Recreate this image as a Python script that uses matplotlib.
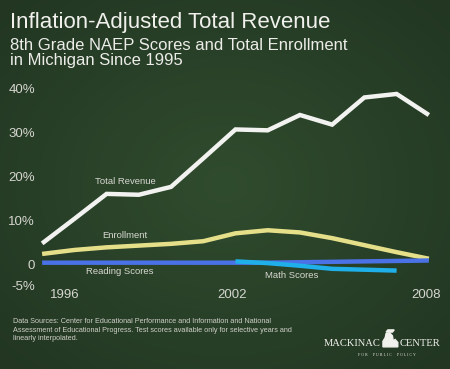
import numpy as np
import matplotlib.pyplot as plt
from matplotlib.patches import Polygon

plt.rcParams['font.family'] = ['Liberation Sans', 'DejaVu Sans']

# data (percent change since 1995)
years = [1996, 1997, 1998, 1999, 2000, 2001, 2002, 2003, 2004, 2005, 2006, 2007, 2008]
revenue = [4.7, 10.3, 16.0, 15.8, 17.6, 24.1, 30.7, 30.5, 34.0, 31.8, 38.0, 38.8, 34.0]
enrollment = [2.3, 3.2, 3.8, 4.2, 4.6, 5.2, 7.0, 7.7, 7.2, 5.9, 4.3, 2.7, 1.2]
reading = [0.3, 0.3, 0.3, 0.3, 0.3, 0.3, 0.3, 0.3, 0.4, 0.5, 0.6, 0.7, 0.8]
math_years = [2002, 2003, 2004, 2005, 2006, 2007]
math = [0.6, 0.2, -0.4, -1.1, -1.3, -1.5]

yticks = [-5, 0, 10, 20, 30, 40]
ytick_labels = ['-5%', '0', '10%', '20%', '30%', '40%']
xtick_years = [1996, 2002, 2008]

fig = plt.figure(figsize=(4.5, 3.69), dpi=100)

# chalkboard background with darker edges
bg = fig.add_axes([0, 0, 1, 1])
gx, gy = np.meshgrid(np.linspace(-1, 1, 200), np.linspace(-1, 1, 160))
r = np.clip(np.sqrt(gx**2 + gy**2) / 1.4, 0, 1)
c_in = np.array([0x30, 0x4c, 0x2e]) / 255
c_out = np.array([0x22, 0x36, 0x22]) / 255
img = c_in[None, None, :] * (1 - r[..., None]) + c_out[None, None, :] * r[..., None]
bg.imshow(img, aspect='auto', extent=[0, 1, 0, 1])
bg.set_xlim(0, 1)
bg.set_ylim(0, 1)
bg.axis('off')

ax = fig.add_axes([0.0578, 0.2014, 0.931, 0.582])
ax.patch.set_alpha(0)
for s in ax.spines.values():
    s.set_visible(False)

lw = 3.2
ax.plot(years, revenue, color='#f2f2f0', lw=lw, solid_capstyle='butt', solid_joinstyle='miter')
ax.plot(years, enrollment, color='#e6df8a', lw=lw, solid_capstyle='butt')
ax.plot(years, reading, color='#4a72e6', lw=lw, solid_capstyle='butt')
ax.plot(math_years, math, color='#1fb0ea', lw=lw, solid_capstyle='butt')

ax.set_xlim(1995.5, 2008.5)
ax.set_ylim(-7, 42)
ax.set_yticks(yticks)
ax.set_yticklabels(ytick_labels)
ax.tick_params(axis='y', length=0, pad=-6.5, labelsize=9.5, labelcolor='#d6d6d0')
ax.set_xticks([])

lab_kw = dict(color='#d6d6d0', fontsize=9.5, va='center')
ax.text(xtick_years[0] + 0.25, 0.0, str(xtick_years[0]), transform=ax.get_xaxis_transform(), ha='left', **lab_kw)
for yr in xtick_years[1:]:
    ax.text(yr - 0.1, 0.0, str(yr), transform=ax.get_xaxis_transform(), ha='center', **lab_kw)

series_kw = dict(color='#d8d8d2', fontsize=6.8, ha='center', va='center')
ax.text(1998.57, 18.9, 'Total Revenue', **series_kw)
ax.text(1998.57, 6.6, 'Enrollment', **series_kw)
ax.text(1998.4, -1.8, 'Reading Scores', **series_kw)
ax.text(2003.75, -2.7, 'Math Scores', **series_kw)

fig.text(0.022, 0.925, 'Inflation-Adjusted Total Revenue', color='#f0f0ec', fontsize=16, va='baseline')
fig.text(0.022, 0.864, '8th Grade NAEP Scores and Total Enrollment', color='#ecece8', fontsize=12.0, va='baseline')
fig.text(0.022, 0.823, 'in Michigan Since 1995', color='#ecece8', fontsize=12.0, va='baseline')

fig.text(0.029, 0.105,
         'Data Sources: Center for Educational Performance and Information and National\n'
         'Assessment of Educational Progress. Test scores available only for selective years and\n'
         'linearly interpolated.',
         color='#cfcfc8', fontsize=5.2, va='center', linespacing=1.3)

serif = ['Liberation Serif', 'DejaVu Serif']
fig.text(0.845, 0.062, 'MACKINAC', color='#f0f0ec', fontsize=7.6, family=serif, ha='right', va='baseline')
fig.text(0.887, 0.062, 'CENTER', color='#f0f0ec', fontsize=7.6, family=serif, ha='left', va='baseline')
fig.text(0.86, 0.036, 'F O R     P U B L I C     P O L I C Y', color='#e0e0da', fontsize=2.9,
         family=serif, ha='center', va='baseline')

# small mitten mark between the two words
mitten = [(0.851, 0.060), (0.884, 0.060), (0.884, 0.072), (0.878, 0.080), (0.874, 0.076),
          (0.872, 0.090), (0.866, 0.098), (0.858, 0.096), (0.856, 0.085), (0.851, 0.075)]
bg.add_patch(Polygon(mitten, closed=True, color='#f0f0ec'))
bg.add_patch(Polygon([(0.858, 0.100), (0.872, 0.100), (0.876, 0.106), (0.862, 0.106)],
                     closed=True, color='#f0f0ec'))

fig.savefig('out.png', dpi=100)
